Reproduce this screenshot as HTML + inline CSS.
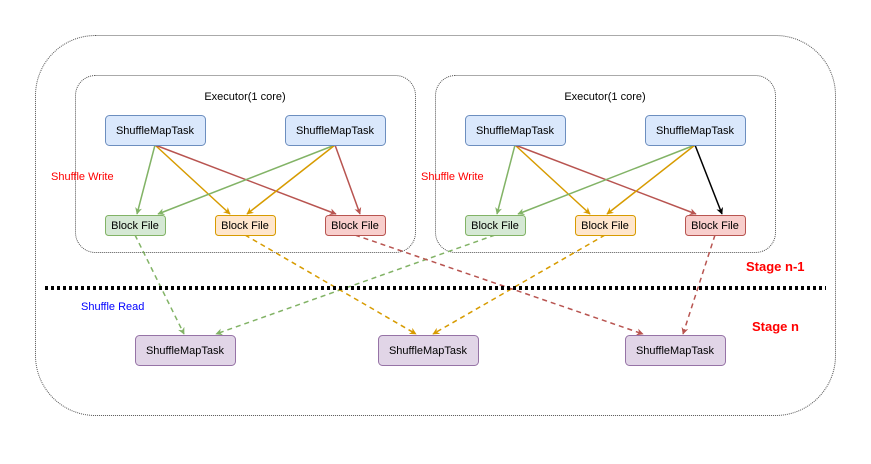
<!DOCTYPE html>
<html><head><meta charset="utf-8"><style>
html,body{margin:0;padding:0;background:#fff;width:871px;height:464px;overflow:hidden}
svg text{font-family:"Liberation Sans",Arial,sans-serif}
</style></head><body>
<svg width="871" height="464" viewBox="0 0 871 464" xmlns="http://www.w3.org/2000/svg">
<defs>
<marker id="ag" viewBox="0 0 10 10" refX="9" refY="5" markerWidth="7" markerHeight="7" orient="auto" markerUnits="userSpaceOnUse"><path d="M0,0 L10,5 L0,10 L3,5z" fill="#82b366"/></marker>
<marker id="ao" viewBox="0 0 10 10" refX="9" refY="5" markerWidth="7" markerHeight="7" orient="auto" markerUnits="userSpaceOnUse"><path d="M0,0 L10,5 L0,10 L3,5z" fill="#d79b00"/></marker>
<marker id="ar" viewBox="0 0 10 10" refX="9" refY="5" markerWidth="7" markerHeight="7" orient="auto" markerUnits="userSpaceOnUse"><path d="M0,0 L10,5 L0,10 L3,5z" fill="#b85450"/></marker>
<marker id="ab" viewBox="0 0 10 10" refX="9" refY="5" markerWidth="7" markerHeight="7" orient="auto" markerUnits="userSpaceOnUse"><path d="M0,0 L10,5 L0,10 L3,5z" fill="#000"/></marker>
</defs>
<rect x="35.5" y="35.5" width="800" height="380" rx="60" fill="none" stroke="#555" stroke-dasharray="1,1"/>
<rect x="75.5" y="75.5" width="340" height="177" rx="20" fill="none" stroke="#555" stroke-dasharray="1,1"/>
<rect x="435.5" y="75.5" width="340" height="177" rx="20" fill="none" stroke="#555" stroke-dasharray="1,1"/>
<text x="245" y="100" font-size="11" text-anchor="middle">Executor(1 core)</text>
<text x="605" y="100" font-size="11" text-anchor="middle">Executor(1 core)</text>
<g stroke-width="1.5" fill="none">
<line x1="155" y1="145" x2="137" y2="214" stroke="#82b366" marker-end="url(#ag)"/>
<line x1="155" y1="145" x2="230" y2="214" stroke="#d79b00" marker-end="url(#ao)"/>
<line x1="155" y1="145" x2="336" y2="214" stroke="#b85450" marker-end="url(#ar)"/>
<line x1="335" y1="145" x2="158" y2="214" stroke="#82b366" marker-end="url(#ag)"/>
<line x1="335" y1="145" x2="247" y2="214" stroke="#d79b00" marker-end="url(#ao)"/>
<line x1="335" y1="145" x2="360" y2="214" stroke="#b85450" marker-end="url(#ar)"/>
<line x1="515" y1="145" x2="497" y2="214" stroke="#82b366" marker-end="url(#ag)"/>
<line x1="515" y1="145" x2="590" y2="214" stroke="#d79b00" marker-end="url(#ao)"/>
<line x1="515" y1="145" x2="696" y2="214" stroke="#b85450" marker-end="url(#ar)"/>
<line x1="695" y1="145" x2="518" y2="214" stroke="#82b366" marker-end="url(#ag)"/>
<line x1="695" y1="145" x2="607" y2="214" stroke="#d79b00" marker-end="url(#ao)"/>
<line x1="695" y1="145" x2="722" y2="214" stroke="#000" marker-end="url(#ab)"/>
<g stroke-dasharray="5,4">
<line x1="135" y1="235" x2="184" y2="334" stroke="#82b366" marker-end="url(#ag)"/>
<line x1="495" y1="235" x2="216" y2="334" stroke="#82b366" marker-end="url(#ag)"/>
<line x1="245" y1="235" x2="416" y2="334" stroke="#d79b00" marker-end="url(#ao)"/>
<line x1="605" y1="235" x2="433" y2="334" stroke="#d79b00" marker-end="url(#ao)"/>
<line x1="355" y1="235" x2="643" y2="334" stroke="#b85450" marker-end="url(#ar)"/>
<line x1="715" y1="235" x2="683" y2="334" stroke="#b85450" marker-end="url(#ar)"/>
</g>
</g>
<line x1="45" y1="288" x2="826" y2="288" stroke="#000" stroke-width="4" stroke-dasharray="3,3"/>
<g font-size="11" text-anchor="middle">
<rect x="105.5" y="115.5" width="100" height="30" rx="4" fill="#dae8fc" stroke="#6c8ebf"/><text x="155" y="134">ShuffleMapTask</text>
<rect x="285.5" y="115.5" width="100" height="30" rx="4" fill="#dae8fc" stroke="#6c8ebf"/><text x="335" y="134">ShuffleMapTask</text>
<rect x="465.5" y="115.5" width="100" height="30" rx="4" fill="#dae8fc" stroke="#6c8ebf"/><text x="515" y="134">ShuffleMapTask</text>
<rect x="645.5" y="115.5" width="100" height="30" rx="4" fill="#dae8fc" stroke="#6c8ebf"/><text x="695" y="134">ShuffleMapTask</text>
<rect x="105.5" y="215.5" width="60" height="20" rx="3" fill="#d5e8d4" stroke="#82b366"/><text x="135" y="229">Block File</text>
<rect x="215.5" y="215.5" width="60" height="20" rx="3" fill="#ffe6cc" stroke="#d79b00"/><text x="245" y="229">Block File</text>
<rect x="325.5" y="215.5" width="60" height="20" rx="3" fill="#f8cecc" stroke="#b85450"/><text x="355" y="229">Block File</text>
<rect x="465.5" y="215.5" width="60" height="20" rx="3" fill="#d5e8d4" stroke="#82b366"/><text x="495" y="229">Block File</text>
<rect x="575.5" y="215.5" width="60" height="20" rx="3" fill="#ffe6cc" stroke="#d79b00"/><text x="605" y="229">Block File</text>
<rect x="685.5" y="215.5" width="60" height="20" rx="3" fill="#f8cecc" stroke="#b85450"/><text x="715" y="229">Block File</text>
<rect x="135.5" y="335.5" width="100" height="30" rx="4" fill="#e1d5e7" stroke="#9673a6"/><text x="185" y="354">ShuffleMapTask</text>
<rect x="378.5" y="335.5" width="100" height="30" rx="4" fill="#e1d5e7" stroke="#9673a6"/><text x="428" y="354">ShuffleMapTask</text>
<rect x="625.5" y="335.5" width="100" height="30" rx="4" fill="#e1d5e7" stroke="#9673a6"/><text x="675" y="354">ShuffleMapTask</text>
</g>
<text x="51" y="180" font-size="11" fill="#ff0000">Shuffle Write</text>
<text x="421" y="180" font-size="11" fill="#ff0000">Shuffle Write</text>
<text x="81" y="310" font-size="11" fill="#0000ff">Shuffle Read</text>
<text x="746" y="271" font-size="13" font-weight="bold" fill="#ff0000">Stage n-1</text>
<text x="752" y="331" font-size="13" font-weight="bold" fill="#ff0000">Stage n</text>
</svg>
</body></html>
